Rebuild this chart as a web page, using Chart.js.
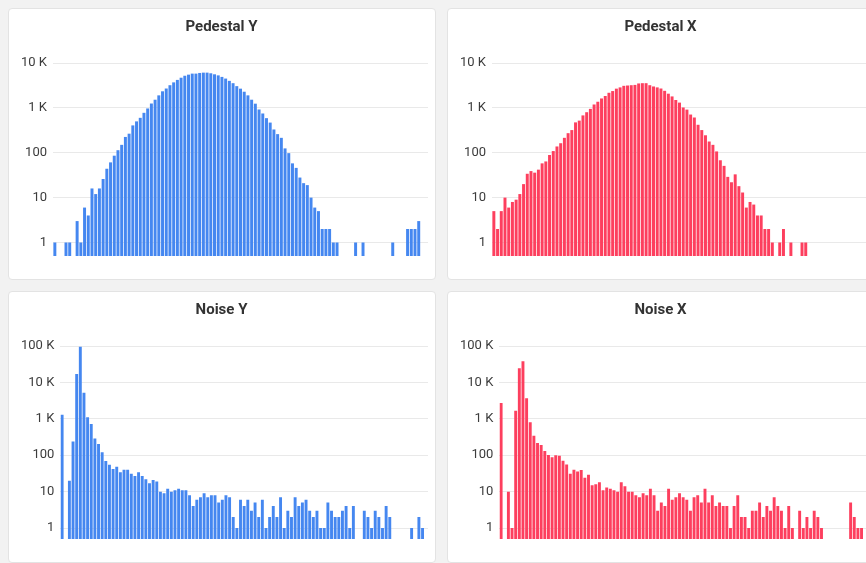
<!DOCTYPE html>
<html>
<head>
<meta charset="utf-8">
<script src="https://cdn.jsdelivr.net/npm/chart.js@4/dist/chart.umd.min.js"></script>
<style>
html, body { margin: 0; padding: 0; overflow: hidden; }
body { background: #f2f2f2; width: 866px; height: 563px; position: relative; font-family: Roboto, sans-serif; }
.card { position: absolute; width: 426px; height: 270px; background: #fff; border: 1px solid #e3e3e3; border-radius: 4px; }
.card canvas { display: block; }
</style>
</head>
<body>
<div class="card" style="left:8px;top:8px"><canvas id="pedY" width="426" height="270"></canvas></div>
<div class="card" style="left:447px;top:8px"><canvas id="pedX" width="426" height="270"></canvas></div>
<div class="card" style="left:8px;top:291px"><canvas id="noiseY" width="426" height="270"></canvas></div>
<div class="card" style="left:447px;top:291px"><canvas id="noiseX" width="426" height="270"></canvas></div>
<script>
// 101 bins per histogram, counts (0 = empty bin)
var pedestalY = [1,0,0,1,1,0,3,1,6,4,
  16,12,16,26,44,61,86,114,150,225,
  266,407,500,600,776,970,1250,1520,1900,2340,
  2700,3200,3700,4200,4700,5200,5500,5800,5800,6000,
  6100,6100,5900,5600,5300,4900,4500,4000,3550,3050,
  2680,2290,1900,1520,1240,920,750,590,470,330,
  260,215,125,98,58,46,28,21,19,10,
  6,5,2,2,2,1,1,0,0,0,
  0,1,0,1,0,0,0,0,0,0,
  0,1,0,0,0,2,2,2,3,0,
  0];
var pedestalX = [5,2,5,10,6,8,9,12,20,34,
  39,36,42,58,64,89,109,138,163,215,
  273,320,475,520,680,800,950,1190,1370,1620,
  1840,2170,2370,2680,2860,3100,3150,3200,3250,3500,
  3550,3550,3200,3000,2860,2700,2400,2070,1800,1500,
  1310,1020,915,710,610,420,320,245,178,150,
  107,68,51,29,22,33,18,13,6,8,
  7,4,4,2,2,1,0,1,2,0,
  1,0,0,1,1,0,0,0,0,0,
  0,0,0,0,0,0,0,0,0,0,
  0];
var noiseY = [1290,0,20,240,17000,95000,5200,1100,720,290,
  204,120,69,55,42,48,34,40,40,31,
  27,34,27,22,17,21,19,10,9,12,
  10,11,12,11,11,8,4,6,7,9,
  7,8,8,5,6,8,7,2,1,6,
  4,6,3,5,2,6,1,2,4,2,
  7,1,3,2,7,4,5,6,3,2,
  3,1,1,5,3,2,2,3,4,1,
  4,0,0,3,2,1,3,2,1,4,
  2,0,0,0,0,0,1,0,2,1,
  0];
var noiseX = [2700,0,10,1,1660,24600,38000,3660,800,345,
  216,190,131,102,88,100,96,70,56,31,
  40,36,39,24,29,15,16,18,11,13,
  12,11,10,18,14,10,10,8,7,9,
  8,12,8,3,5,4,12,6,7,9,
  7,6,3,7,8,5,12,5,8,4,
  5,4,4,1,4,8,2,2,1,3,
  3,5,2,4,3,7,4,3,1,4,
  1,0,3,1,2,1,3,2,1,0,
  0,0,0,0,0,0,5,2,1,1,
  0];

var pedestalTicks = [1, 10, 100, 1000, 10000];
var noiseTicks = [1, 10, 100, 1000, 10000, 100000];

var blue = '#4587f0';
var red = '#fd3f5e';

function tickLabel(v) {
  if (v >= 1000) return (v / 1000) + ' K';
  return String(v);
}

function makeHist(id, title, counts, ticks, color) {
  var labels = counts.map(function (c, i) { return i; });
  return new Chart(document.getElementById(id), {
    type: 'bar',
    data: {
      labels: labels,
      datasets: [{
        label: title,
        data: counts.map(function (c) { return c > 0 ? c : null; }),
        backgroundColor: color,
        borderWidth: 0,
        barPercentage: 0.8,
        categoryPercentage: 1.0
      }]
    },
    options: {
      responsive: false,
      animation: false,
      layout: { padding: { left: 6, right: 7, top: 0, bottom: 23 } },
      plugins: {
        legend: { display: false },
        tooltip: { enabled: false },
        title: {
          display: true,
          text: title,
          color: '#333',
          font: { family: 'Roboto', size: 15, weight: 'bold' },
          padding: { top: 9, bottom: 27 }
        }
      },
      scales: {
        x: { display: false },
        y: {
          type: 'logarithmic',
          min: 0.5,
          max: ticks[ticks.length - 1],
          border: { display: false },
          grid: { color: '#e9e9e9', drawTicks: false },
          afterBuildTicks: function (scale) {
            scale.ticks = ticks.map(function (v) { return { value: v }; });
          },
          ticks: {
            color: '#3c3c3c',
            padding: 6,
            font: { family: 'Roboto', size: 13 },
            callback: function (v) { return tickLabel(v); }
          }
        }
      }
    }
  });
}

window.addEventListener('load', function () {
  makeHist('pedY', 'Pedestal Y', pedestalY, pedestalTicks, blue);
  makeHist('pedX', 'Pedestal X', pedestalX, pedestalTicks, red);
  makeHist('noiseY', 'Noise Y', noiseY, noiseTicks, blue);
  makeHist('noiseX', 'Noise X', noiseX, noiseTicks, red);
});
</script>
</body>
</html>
